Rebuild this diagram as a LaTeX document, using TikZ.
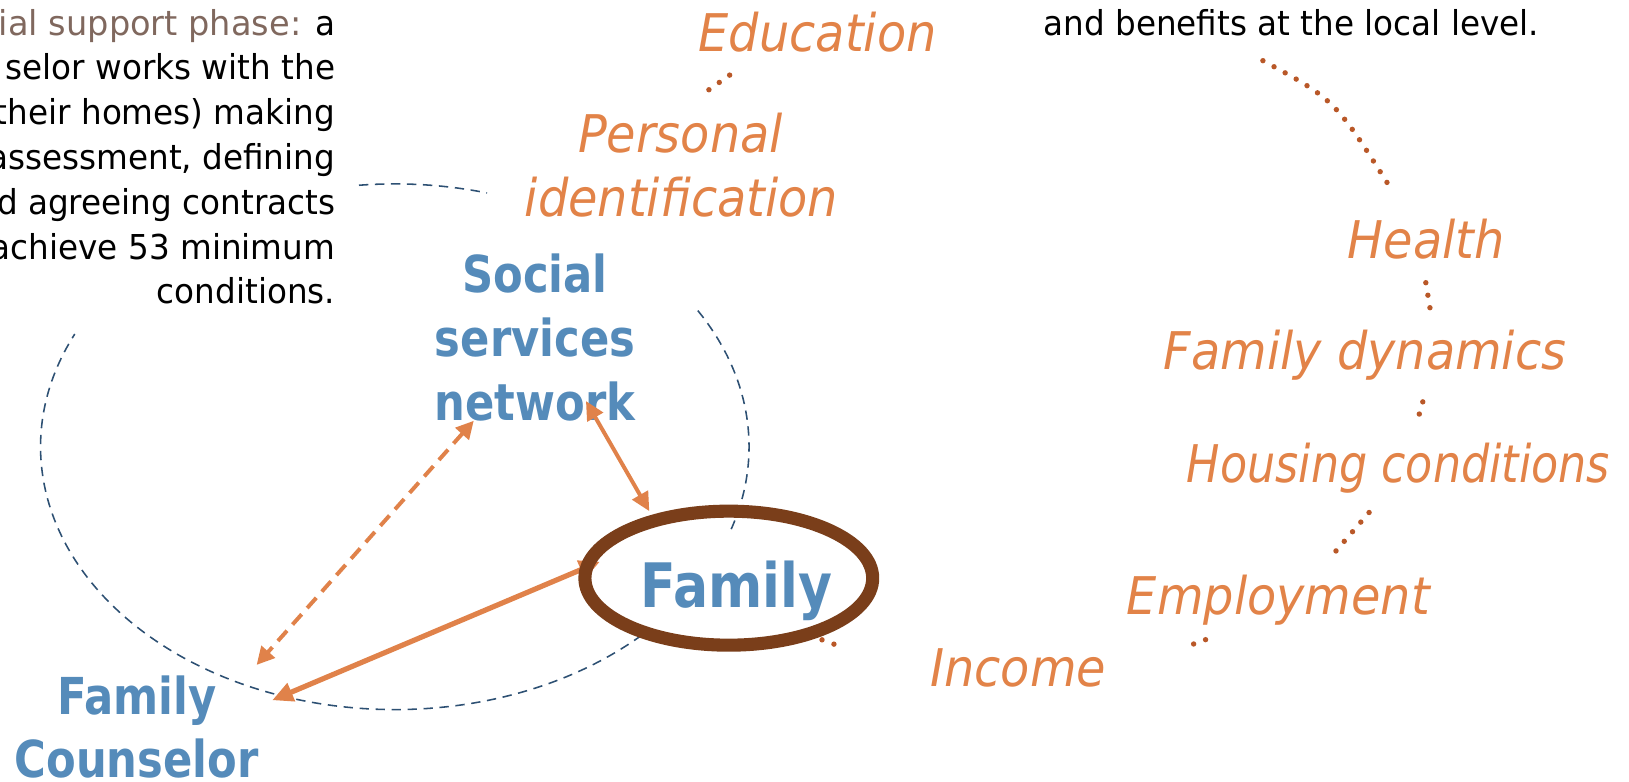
\documentclass[tikz,border=0pt]{standalone}
\usepackage{fontspec}
\usetikzlibrary{arrows.meta,shapes.geometric}
\setmainfont{DejaVu Sans}
\newfontfamily\notefont{DejaVu Sans}[FakeStretch=0.952]
\newfontfamily\phasefont{DejaVu Sans}[FakeStretch=0.98]
\newfontfamily\dimfont{DejaVu Sans Oblique}[FakeStretch=0.92]
\newfontfamily\dimnarrowfont{DejaVu Sans Oblique}[FakeStretch=0.855]
\newfontfamily\actorfont{DejaVu Sans Bold}[FakeStretch=0.85]

\definecolor{dimorange}{RGB}{226,131,72}
\definecolor{linkorange}{RGB}{224,130,74}
\definecolor{actorblue}{RGB}{85,139,186}
\definecolor{ringbrown}{RGB}{122,62,26}
\definecolor{dotbrown}{RGB}{185,88,40}
\definecolor{loopblue}{RGB}{45,80,115}
\definecolor{phasebrown}{RGB}{128,104,94}

\begin{document}
\begin{tikzpicture}[x=0.5pt,y=-0.5pt,
  note/.style={anchor=base east,inner sep=0pt,font=\notefont\fontsize{16.5}{21.6}\selectfont},
  dim/.style={anchor=base,inner sep=0pt,text=dimorange,font=\dimfont\fontsize{25}{30}\selectfont},
  actor/.style={anchor=base,inner sep=0pt,text=actorblue},
  ring/.style={ellipse,draw=ringbrown,line width=6.3pt,minimum width=138.5pt,minimum height=64.5pt,inner sep=0pt},
  loopline/.style={draw=loopblue,line width=0.75pt,dash pattern=on 4.5pt off 3.2pt},
  dotlink/.style={draw=dotbrown,line width=2.6pt,line cap=round,dash pattern=on 0pt off 6.1pt},
  tie/.style={draw=linkorange,line width=1.9pt,arrows={Triangle[length=9pt,width=8.5pt]-Triangle[length=9pt,width=8.5pt]}},
  loosetie/.style={draw=linkorange,line width=1.9pt,dash pattern=on 6.6pt off 4pt,arrows={Triangle[length=8.5pt,width=8.5pt]-Triangle[length=8.5pt,width=8.5pt]}},
  strongtie/.style={draw=linkorange,line width=2.5pt,arrows={Triangle[length=10pt,width=9pt]-Triangle[length=10pt,width=9pt]}}
]
\useasboundingbox (0,0) rectangle (1568,752);
\clip (0,0) rectangle (1568,752);

% the dashed loop of the support phase
\coordinate (loopc) at (380,430);
\draw[loopline] ([shift={(-95.8:341 and 253)}]loopc) arc[start angle=-95.8,end angle=-74.9,x radius=341,y radius=253];
\draw[loopline] ([shift={(-31.2:341 and 253)}]loopc) arc[start angle=-31.2,end angle=19,x radius=341,y radius=253];
\draw[loopline] ([shift={(45.8:341 and 253)}]loopc) arc[start angle=45.8,end angle=205.4,x radius=341,y radius=253];

% dotted links between the dimensions
\coordinate (eduA) at (702.3,72.3);   \coordinate (eduB) at (681.5,87);
\coordinate (benA) at (1215.6,58.4);  \coordinate (benB) at (1340,183.5);
\coordinate (hltA) at (1372.4,272.1); \coordinate (hltB) at (1376.6,297.5);
\coordinate (dynA) at (1369.5,386.8); \coordinate (dynB) at (1366,399);
\coordinate (houA) at (1317.8,493.3); \coordinate (houB) at (1285.5,530.8);
\coordinate (empA) at (1160.4,615.7); \coordinate (empB) at (1148.5,620);
\coordinate (incA) at (802.7,620);    \coordinate (incB) at (790.8,615.7);
\draw[dotlink] (eduA) -- (eduB);
\draw[dotlink] (benA) .. controls (1285,96) .. (benB);
\draw[dotlink] (hltA) -- (hltB);
\draw[dotlink] (dynA) -- (dynB);
\draw[dotlink] (houA) -- (houB);
\draw[dotlink] (empA) -- (empB);
\draw[dotlink] (incA) -- (incB);

% description of the phase
\node[note] (note1) at (323,33.7) {{\phasefont\color{phasebrown}ial support phase:} a};
\node[note] (note2) at (323,76.9) {selor works with the};
\node[note] (note3) at (323,120) {their homes) making};
\node[note] (note4) at (323,163.2) {assessment, defining};
\node[note] (note5) at (323,206.3) {d agreeing contracts};
\node[note] (note6) at (323,249.5) {achieve 53 minimum};
\node[note] (note7) at (323,292.6) {conditions.};
\node[note,anchor=base] (benefits) at (1243,33.7) {and benefits at the local level.};

% dimensions
\node[dim] (edu) at (787,50) {Education};
\node[dim] (pers) at (655,147) {Personal};
\node[dim] (ident) at (656,208.5) {identification};
\node[dim] (health) at (1373,248.4) {Health};
\node[dim] (dyn) at (1314,356) {Family dynamics};
\node[dim,font=\dimnarrowfont\fontsize{25}{30}\selectfont] (housing) at (1346,464.4) {Housing conditions};
\node[dim] (employ) at (1230.5,591.4) {Employment};
\node[dim] (income) at (980,661) {Income};

% actors
\node[actor,font=\actorfont\fontsize{24.5}{29}\selectfont] (soc1) at (515,282) {Social};
\node[actor,font=\actorfont\fontsize{24.5}{29}\selectfont] (soc2) at (515,343) {services};
\node[actor,font=\actorfont\fontsize{24.5}{29}\selectfont] (soc3) at (515,405) {network};
\node[actor,font=\actorfont\fontsize{29.5}{36}\selectfont] (family) at (709,584.5) {Family};
\node[actor,font=\actorfont\fontsize{24.5}{30}\selectfont] (couns1) at (132,688) {Family};
\node[actor,font=\actorfont\fontsize{24.5}{30}\selectfont] (couns2) at (131.5,748) {Counselor};

% relations between the actors
\coordinate (netTip) at (564,386);   \coordinate (famTop) at (625,492);
\coordinate (netLow) at (456,405);   \coordinate (cnsUp) at (247,640);
\coordinate (famLeft) at (577.5,540.6); \coordinate (cnsRight) at (262,674);
\draw[tie] (netTip) -- (famTop);
\draw[loosetie] (netLow) -- (cnsUp);
\draw[strongtie] (famLeft) -- (cnsRight);

% the family ring
\node[ring] (ringnode) at (701.5,556.5) {};
\end{tikzpicture}
\end{document}
